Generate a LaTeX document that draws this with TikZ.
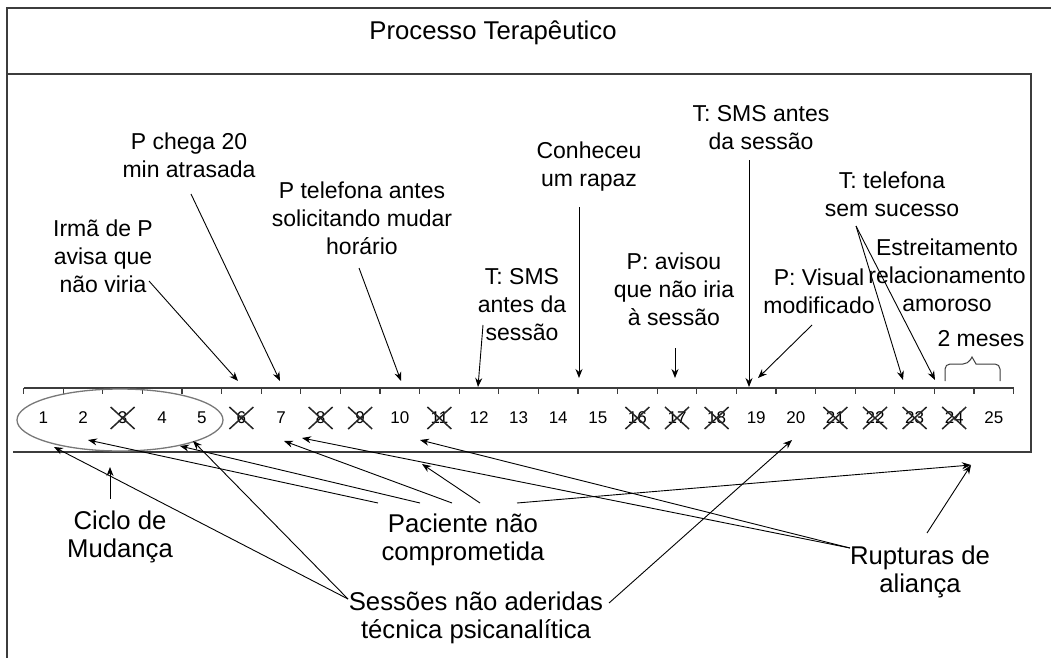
\documentclass[tikz,border=0pt]{standalone}
\usepackage{fontspec}
\setmainfont{Liberation Sans}
\usetikzlibrary{arrows.meta}
\definecolor{linegray}{RGB}{60,60,60}
\definecolor{ringgray}{RGB}{120,120,120}
\tikzstyle{toplabel} = [align=center, inner sep=0pt,
                        font=\fontsize{23}{28}\selectfont]
\tikzstyle{botlabel} = [align=center, inner sep=0pt,
                        font=\fontsize{25.7}{28.5}\selectfont]
\tikzstyle{num} = [inner sep=0pt, font=\fontsize{17}{20}\selectfont]
\tikzstyle{cross} = [draw=black!85, line width=1.5pt]
\tikzstyle{arrow} = [->, >={Stealth[length=9pt,width=7pt]}, line width=0.9pt]

\begin{document}
\begin{tikzpicture}[x=1pt, y=-1pt]
        \useasboundingbox (0,0) rectangle (1051,658);

        % frame
        \draw[linegray, line width=1.2pt] (1051,8) -- (7,8) -- (7,658);
        \draw[linegray, line width=1.2pt] (7,74) -- (1031,74) -- (1031,452) -- (13,452);
        \node (title) [botlabel] at (493,33) {Processo Terapêutico};

        % timeline
        \draw[linegray, line width=1.1pt] (23.6,388) -- (1013.6,388);
        \foreach \i in {0,...,25}
            \draw[linegray, line width=1.1pt] (23.6+39.6*\i,388) -- ++(0,6);
        \foreach \n in {1,...,25}
            \node (n\n) [num] at (3.8+39.6*\n,418) {\n};
        \foreach \n in {3,6,8,9,11,16,17,18,21,22,23,24}
            \draw[cross] (n\n.center) +(-12,-11) -- +(12,11) +(-12,11) -- +(12,-11);
        \draw[ringgray, line width=1.3pt] (120,420) ellipse [x radius=103, y radius=31];
        \draw[linegray, line width=1pt, rounded corners=5pt] (945,381) |- (968,364)
            [sharp corners] -- (972,357) -- (976,364) [rounded corners=5pt] -| (1000,381);

        % events above the line
        \node (irma) [toplabel] at (103,256) {Irmã de P\\avisa que\\não viria};
        \node (chega) [toplabel] at (189,155) {P chega 20\\min atrasada};
        \node (telef) [toplabel] at (362,218) {P telefona antes\\solicitando mudar\\horário};
        \node (smsa) [toplabel] at (522,305) {T: SMS\\antes da\\sessão};
        \node (rapaz) [toplabel] at (589,167) {Conheceu\\um rapaz};
        \node (avisou) [toplabel] at (674,289) {P: avisou\\que não iria\\à sessão};
        \node (smsb) [toplabel] at (761,128) {T: SMS antes\\da sessão};
        \node (visual) [toplabel] at (819,291) {P: Visual\\modificado};
        \node (telsem) [toplabel] at (892,194) {T: telefona\\sem sucesso};
        \node (estreit) [toplabel] at (947,275) {Estreitamento\\relacionamento\\amoroso};
        \node (meses) [toplabel] at (981,339) {2 meses};

        % categories below the line
        \node (ciclo) [botlabel] at (120,537) {Ciclo de\\Mudança};
        \node (paciente) [botlabel] at (463,540) {Paciente não\\comprometida};
        \node (sessoes) [botlabel] at (476,618) {Sessões não aderidas\\técnica psicanalítica};
        \node (rupturas) [botlabel] at (920,572) {Rupturas de\\aliança};

        % arrow targets
        \coordinate (top6) at (238,381);
        \coordinate (top7) at (280,381);
        \coordinate (top10) at (401,381);
        \coordinate (top12) at (478,387);
        \coordinate (top15) at (579,378);
        \coordinate (top17) at (675,378);
        \coordinate (top19) at (749,387);
        \coordinate (top19r) at (758,378);
        \coordinate (top23) at (903,380);
        \coordinate (top24) at (935,380);
        \coordinate (ring) at (110,467);
        \coordinate (bot1) at (54,447);
        \coordinate (bot2) at (88,440);
        \coordinate (bot5a) at (180,446);
        \coordinate (bot5b) at (193,441);
        \coordinate (bot7) at (284,441);
        \coordinate (bot8) at (302,438);
        \coordinate (bot11) at (420,440);
        \coordinate (bot11b) at (422,464);
        \coordinate (bot20) at (792,440);
        \coordinate (bot24) at (971,465);

        \draw [arrow] ([shift={(46,25)}]irma.center) -- (top6);
        \draw [arrow] ([shift={(2,39)}]chega.center) -- (top7);
        \draw [arrow] ([shift={(-3,50)}]telef.center) -- (top10);
        \draw [arrow] ([shift={(-39,20)}]smsa.center) -- (top12);
        \draw [arrow] ([shift={(-10,40)}]rapaz.center) -- (top15);
        \draw [arrow] ([shift={(1,59)}]avisou.center) -- (top17);
        \draw [arrow] ([shift={(-12,32)}]smsb.center) -- (top19);
        \draw [arrow] ([shift={(-7,34)}]visual.center) -- (top19r);
        \draw [arrow] ([shift={(-36,32)}]telsem.center) -- (top23);
        \draw [arrow] ([shift={(-36,32)}]telsem.center) -- (top24);

        \draw [arrow] ([shift={(-10,-38)}]ciclo.center) -- (ring);
        \draw [arrow] ([shift={(-85,-37)}]paciente.center) -- (bot2);
        \draw [arrow] ([shift={(-43,-37)}]paciente.center) -- (bot5a);
        \draw [arrow] ([shift={(-11,-37)}]paciente.center) -- (bot7);
        \draw [arrow] ([shift={(17,-37)}]paciente.center) -- (bot11b);
        \draw [arrow] ([shift={(54,-37)}]paciente.center) -- (bot24);
        \draw [arrow] ([shift={(-128,-19)}]sessoes.center) -- (bot1);
        \draw [arrow] ([shift={(-128,-19)}]sessoes.center) -- (bot5b);
        \draw [arrow] ([shift={(133,-15)}]sessoes.center) -- (bot20);
        \draw [arrow] ([shift={(-70,-24)}]rupturas.center) -- (bot8);
        \draw [arrow] ([shift={(-70,-24)}]rupturas.center) -- (bot11);
        \draw [arrow] ([shift={(7,-39)}]rupturas.center) -- (bot24);

    \end{tikzpicture}
\end{document}
